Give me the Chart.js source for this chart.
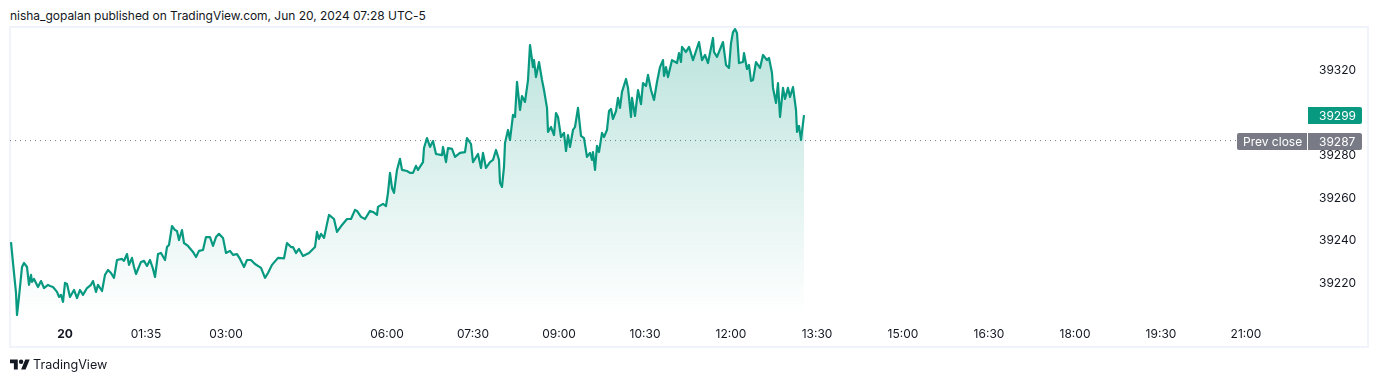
<!DOCTYPE html>
<html>
<head>
<meta charset="utf-8">
<title>DJI</title>
<script src="https://cdn.jsdelivr.net/npm/chart.js@4/dist/chart.umd.min.js"></script>
<style>
  html, body { margin: 0; padding: 0; background: #fff; }
  body { width: 1378px; height: 382px; position: relative; overflow: hidden; font-family: Inter, sans-serif; color: #131722; }
  #head { position: absolute; left: 10px; top: 8px; font-size: 12px; line-height: 15px; white-space: nowrap; letter-spacing: -0.03px; }
  #frame { position: absolute; left: 9px; top: 26px; width: 1356px; height: 318px; border: 2px solid #f0f3fa; }
  #chart { position: absolute; left: 0; top: 0; }
  #brand { position: absolute; left: 10px; top: 357px; font-size: 12.6px; line-height: 16px; display: flex; align-items: center; }
  #brand svg { width: 20px; height: 16px; margin-right: 3px; }
</style>
</head>
<body>
<div id="head">nisha_gopalan published on TradingView.com, Jun 20, 2024 07:28 UTC-5</div>
<div id="frame"></div>
<canvas id="chart" width="1378" height="382"></canvas>
<div id="brand"><svg viewBox="0 0 36 28"><path fill="#131722" d="M14 22H7V11H0V4h14v18zM28 22h-8l7.5-18h8L28 22z"/><circle fill="#131722" cx="20" cy="8" r="4"/></svg>TradingView</div>
<script>
// bar number along the time axis, one per price below
const bars = [
  1, 3, 6, 7, 9, 12, 14, 17, 19, 21, 22, 24, 28, 31, 34, 38, 40, 43, 47, 49, 51, 53, 55, 57, 60, 64, 67, 70, 73, 77,
  81, 83, 86, 88, 92, 95, 98, 101, 104, 107, 112, 114, 117, 119, 122, 124, 126, 131, 134, 137, 140, 143, 145, 148, 151, 155, 157, 159, 162, 165,
  167, 169, 172, 174, 178, 183, 186, 189, 193, 196, 200, 203, 206, 209, 213, 216, 220, 223, 227, 230, 234, 237, 241, 245, 251, 255, 258, 262, 268,
  274, 277, 281, 283, 286, 289, 293, 299, 305, 307, 309, 311, 314, 317, 319, 324, 327, 332, 337, 341, 345, 347, 351, 355, 360, 363, 367, 368, 373, 376, 378, 380, 382, 384, 387, 390, 392,
  397, 400, 403, 406, 408, 413, 414, 417, 420, 423, 426, 432, 433, 436, 438, 442, 445, 450, 455, 457, 461, 463, 468, 471, 473, 476, 480, 483, 486, 489, 490, 492, 494, 495,
  498, 500, 503, 505, 507, 510, 512, 515, 518, 520, 523, 524, 526, 529, 532, 534, 537, 538, 541, 544, 546, 548, 551, 554, 556, 558, 560, 563, 565, 568, 571, 574, 577, 580, 582, 583, 585, 587, 589, 592, 594, 597, 599, 601, 603, 606, 608, 610, 612,
  616, 618, 621, 622, 625, 628, 631, 633, 636, 638, 641, 644, 647, 650, 653, 654, 656, 658, 662, 667, 669, 671, 672, 676, 679, 683, 687, 689, 692, 695, 698, 703, 704, 707, 713, 716, 719, 721, 723, 725, 727, 729, 733, 734, 737, 739, 741, 743, 746, 750, 753, 757, 759, 762, 763, 766, 768, 770, 773, 775, 778, 780, 783, 786, 787, 789, 791, 794
];

const prices = [
  39239.2, 39229.4, 39215.3, 39204.9, 39213.4, 39227.5, 39229.4, 39227.5, 39219.1, 39223.8, 39220.5, 39221.9, 39218.1, 39220.9, 39217.6, 39219.1, 39218.6, 39218.1, 39215.8, 39213.4, 39214.4, 39211.1, 39220, 39219.5, 39213.4, 39216.7, 39212.9, 39216.7, 39214.4, 39217.6,
  39219.1, 39220.9, 39215.8, 39219.1, 39216.2, 39223.8, 39226.1, 39224.7, 39222.4, 39230.8, 39231.3, 39230.4, 39233.6, 39228.5, 39231.8, 39227.5, 39224.2, 39229.9, 39230.4, 39228, 39230.8, 39226.6, 39222.8, 39233.6, 39234.1, 39230.8, 39236.9, 39237.9, 39246.8, 39244.9,
  39244.5, 39240.2, 39244.9, 39238.8, 39237.4, 39234.6, 39232.2, 39235.1, 39235.5, 39241.6, 39241.6, 39237.4, 39241.6, 39243.1, 39241.2, 39234.1, 39235.1, 39233.2, 39233.6, 39231.3, 39227.5, 39230.8, 39230.8, 39228.9, 39227.1, 39222.4, 39224.7, 39228.5, 39231.8,
  39231.6, 39238.8, 39236.9, 39236.9, 39234.1, 39236, 39232.7, 39234.1, 39236.9, 39244, 39240.7, 39243.1, 39241.2, 39247.8, 39252, 39250.1, 39244, 39247.3, 39250.1, 39250.1, 39254.4, 39253.9, 39251.1, 39250.1, 39253.9, 39253.4, 39252, 39255.8, 39257.2, 39256.2, 39262.4, 39271.8, 39264.7, 39262.4, 39273.2, 39278.4, 39273.2,
  39272.7, 39271.8, 39271.8, 39275.1, 39273.2, 39276.9, 39283.5, 39288.2, 39284, 39286.8, 39280.7, 39280.2, 39284, 39276.9, 39283.5, 39283.1, 39279.3, 39281.2, 39281.6, 39288.2, 39285.4, 39276.9, 39280.7, 39274.1, 39281.2, 39274.1, 39276.9, 39277.9, 39282.6, 39277.9, 39267.1, 39265.2, 39274.6, 39285.9,
  39292, 39287.3, 39299.1, 39298.1, 39314.6, 39301.4, 39308, 39305.2, 39315.5, 39332, 39321.6, 39324.9, 39316.9, 39324, 39315.5, 39310.8, 39302.4, 39291.1, 39293.4, 39289.6, 39300, 39298.1, 39288.7, 39290.6, 39282.1, 39289.6, 39284, 39292, 39293.4, 39302.4, 39289.2, 39288.2, 39279.3, 39281.2, 39277.9, 39281.6, 39273.2, 39284.5, 39281.6, 39290.6, 39288.7, 39292, 39300.9, 39301.9, 39297.2, 39300.9, 39307.1, 39302.4, 39309.9,
  39316, 39311.8, 39298.1, 39307.1, 39298.6, 39310.8, 39304.2, 39314.1, 39312.7, 39317.9, 39310.8, 39306.1, 39314.6, 39321.6, 39324.9, 39317.4, 39321.6, 39316.9, 39324.9, 39323.5, 39328.2, 39324, 39331.1, 39328.7, 39331.1, 39324.9, 39330.6, 39333.4, 39324.9, 39327.3, 39323.5, 39335.3, 39328.7, 39326.4, 39333.4, 39322.6, 39321.2, 39332.9, 39338.1, 39339.5, 39337.6, 39323.5, 39324, 39328.2, 39320.7, 39322.6, 39315.1, 39315.5, 39324, 39321.2, 39327.3, 39324.9, 39325.9, 39318.8, 39311.8, 39304.7, 39314.1, 39298.1, 39311.8, 39306.6, 39311.8, 39307.5, 39312.2, 39301.4, 39291.1, 39293.9, 39287.3, 39299
];

const timeTicks = [55, 136, 216, 377, 463, 549, 635, 721, 807, 893, 979, 1065, 1151, 1236];
const timeLabels = ["20", "01:35", "03:00", "06:00", "07:30", "09:00", "10:30", "12:00", "13:30", "15:00", "16:30", "18:00", "19:30", "21:00"];
const priceTicks = [39220, 39240, 39260, 39280, 39320];
const prevClose = 39287;
const prevCloseEnd = 1227;
const lastPrice = prices[prices.length - 1];

const GREEN = "#089981";
const GREY = "#787b86";

function priceGradient(context) {
  const { chart } = context;
  if (!chart.chartArea) return "transparent";
  const y = chart.scales.y;
  const g = chart.ctx.createLinearGradient(0, y.getPixelForValue(Math.max(...prices)), 0, y.getPixelForValue(Math.min(...prices)));
  g.addColorStop(0, "rgba(8, 153, 129, 0.28)");
  g.addColorStop(1, "rgba(8, 153, 129, 0)");
  return g;
}

function roundedBox(ctx, x, y, w, h, radii, color) {
  ctx.fillStyle = color;
  ctx.beginPath();
  ctx.roundRect(x, y, w, h, radii);
  ctx.fill();
}

// price tags on the right axis
const priceTags = {
  id: "priceTags",
  afterDraw(chart) {
    const { ctx } = chart;
    const y = chart.scales.y;
    const lastY = Math.round(y.getPixelForValue(lastPrice));
    const prevY = Math.round(y.getPixelForValue(prevClose));
    ctx.save();
    ctx.font = "12px Inter, sans-serif";
    ctx.textBaseline = "middle";
    ctx.textAlign = "left";

    roundedBox(ctx, 1308, lastY - 8, 54, 17, [0, 2, 2, 0], GREEN);
    roundedBox(ctx, 1237, prevY - 8, 70, 17, [2, 0, 0, 2], GREY);
    roundedBox(ctx, 1308, prevY - 8, 54, 17, [0, 2, 2, 0], GREY);

    ctx.fillStyle = "#ffffff";
    ctx.fillText(String(lastPrice), 1319, lastY + 1);
    ctx.fillText("Prev close", 1243, prevY + 1);
    ctx.fillText(String(prevClose), 1319, prevY + 1);
    ctx.restore();
  },
};

new Chart(document.getElementById("chart"), {
  type: "line",
  data: {
    datasets: [
      {
        data: bars.map((b, i) => ({ x: b, y: prices[i] })),
        borderColor: GREEN,
        borderWidth: 2.2,
        backgroundColor: priceGradient,
        fill: { value: Math.min(...prices) },
        pointRadius: 0,
        tension: 0,
        borderJoinStyle: "round",
      },
      {
        data: [{ x: 0, y: prevClose }, { x: prevCloseEnd, y: prevClose }],
        borderColor: GREY,
        borderWidth: 1,
        borderDash: [1, 4],
        fill: false,
        pointRadius: 0,
      },
    ],
  },
  options: {
    responsive: false,
    animation: false,
    layout: { padding: { left: 10, top: 28, right: 0, bottom: 0 } },
    plugins: { legend: { display: false }, title: { display: false }, tooltip: { enabled: false } },
    scales: {
      x: {
        type: "linear",
        min: 0,
        max: 1272,
        grid: { display: false, drawTicks: false },
        border: { display: false },
        afterBuildTicks: (scale) => { scale.ticks = timeTicks.map((value) => ({ value })); },
        afterFit: (scale) => { scale.height = 64; scale.paddingLeft = 0; scale.paddingRight = 0; },
        ticks: {
          autoSkip: false,
          maxRotation: 0,
          padding: 9,
          color: "#131722",
          font: (c) => ({ family: "Inter, sans-serif", size: 12, weight: c.index === 0 ? "bold" : "normal" }),
          callback: (v, i) => timeLabels[i],
        },
      },
      y: {
        position: "right",
        min: 39203.5,
        max: 39340,
        grid: { display: false, drawTicks: false },
        border: { display: false },
        afterBuildTicks: (scale) => { scale.ticks = priceTicks.map((value) => ({ value })); },
        afterFit: (scale) => { scale.width = 96; scale.paddingTop = 0; scale.paddingBottom = 0; },
        ticks: {
          padding: 37,
          color: "#131722",
          font: { family: "Inter, sans-serif", size: 12 },
          callback: (v) => String(v),
        },
      },
    },
  },
  plugins: [priceTags],
});
</script>
</body>
</html>
